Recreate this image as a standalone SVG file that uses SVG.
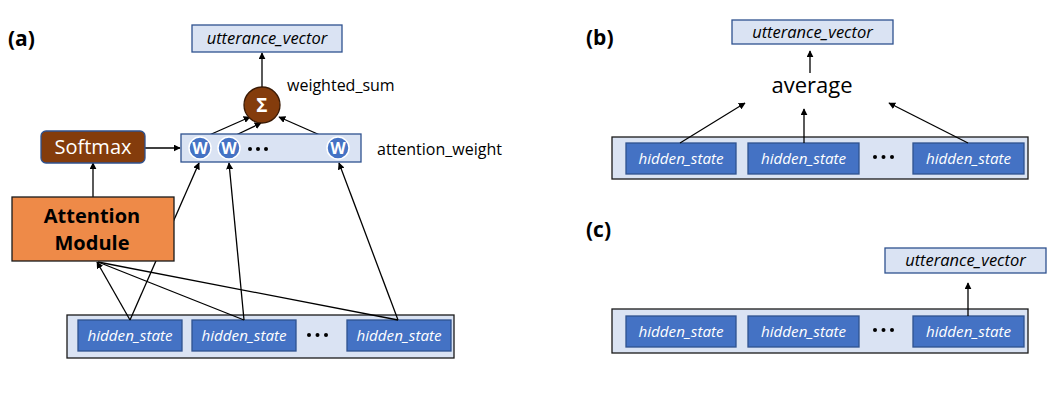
<svg xmlns="http://www.w3.org/2000/svg" width="1058" height="416" viewBox="0 0 1058 416">
<style>
text{font-family:"Open Sans","Noto Sans","DejaVu Sans",sans-serif}
.lbl{font-size:21px;font-weight:bold;fill:#000}
.uv{fill:#DAE3F3;stroke:#2F528F;stroke-width:1.3}
.uvt{font-size:16.5px;font-style:italic;fill:#000;text-anchor:middle}
.cont{fill:#DAE3F3;stroke:#1a1a1a;stroke-width:1.3}
.hs{fill:#4472C4;stroke:#2F528F;stroke-width:1.3}
.hst{font-size:15.2px;font-style:italic;fill:#fff;text-anchor:middle}
.dot{fill:#000}
.w{fill:#4472C4;stroke:#fff;stroke-width:1.5}
.wt{font-size:16px;font-weight:bold;fill:#fff;text-anchor:middle}
.txt{font-size:16px;fill:#000}
.ln{stroke:#000;stroke-width:1.3;fill:none}
.ar{stroke:#000;stroke-width:1.3;fill:none;marker-end:url(#ah)}
</style>
<defs>
<marker id="ah" viewBox="0 0 10 10" refX="9" refY="5" markerWidth="7" markerHeight="7" markerUnits="userSpaceOnUse" orient="auto">
<path d="M0,0 L10,5 L0,10 z" fill="#000"/>
</marker>
</defs>
<rect width="1058" height="416" fill="#fff"/>

<!-- Panel labels -->
<text class="lbl" x="8" y="46">(a)</text>
<text class="lbl" x="586" y="45">(b)</text>
<text class="lbl" x="586" y="237">(c)</text>

<!-- ===== Panel (a) ===== -->
<g id="a-hidden-container">
<rect class="cont" x="67" y="315" width="387" height="43"/>
<circle class="dot" cx="309" cy="335" r="2"/><circle class="dot" cx="317.5" cy="335" r="2"/><circle class="dot" cx="326" cy="335" r="2"/>
</g>
<g id="a-hs1"><rect class="hs" x="78" y="320" width="104" height="31"/><text class="hst" x="130" y="341">hidden_state</text></g>
<g id="a-hs2"><rect class="hs" x="192" y="320" width="104" height="31"/><text class="hst" x="244" y="341">hidden_state</text></g>
<g id="a-hs3"><rect class="hs" x="347" y="320" width="104" height="31"/><text class="hst" x="399" y="341">hidden_state</text></g>

<g id="a-connectors">
<line class="ar" x1="130" y1="320" x2="199" y2="163"/>
<line class="ar" x1="244" y1="320" x2="229" y2="163"/>
<line class="ar" x1="398" y1="320" x2="339" y2="163"/>
<line class="ar" x1="130" y1="320" x2="97" y2="262"/>
<line class="ln" x1="244" y1="320" x2="98" y2="262"/>
<line class="ln" x1="398" y1="320" x2="98" y2="262"/>
<line class="ar" x1="93" y1="197" x2="93" y2="163"/>
<line class="ar" x1="145" y1="148" x2="180" y2="148"/>
<line class="ar" x1="207" y1="136" x2="250" y2="117"/>
<line class="ar" x1="234" y1="136" x2="261" y2="123"/>
<line class="ar" x1="329" y1="139" x2="279" y2="117"/>
<line class="ar" x1="262" y1="87" x2="262" y2="53"/>
</g>

<g id="a-attention-module">
<rect x="12" y="197" width="162" height="64" fill="#EE8A48" stroke="#1a1a1a" stroke-width="1.3"/>
<text x="92" y="223" font-size="20" font-weight="bold" text-anchor="middle" fill="#000">Attention</text>
<text x="92" y="250" font-size="20" font-weight="bold" text-anchor="middle" fill="#000">Module</text>
</g>

<g id="a-softmax">
<rect x="41" y="131" width="104" height="32" rx="5" fill="#843C0C" stroke="#2F528F" stroke-width="1.3"/>
<text x="93" y="154" font-size="20" text-anchor="middle" fill="#fff">Softmax</text>
</g>

<g id="a-attention-weight">
<rect class="uv" x="181" y="134" width="180" height="28"/>
<g id="a-w1"><circle class="w" cx="200" cy="148" r="11"/><text class="wt" x="200" y="153.5">W</text></g>
<g id="a-w2"><circle class="w" cx="229" cy="148" r="11"/><text class="wt" x="229" y="153.5">W</text></g>
<g id="a-w3"><circle class="w" cx="338" cy="148" r="11"/><text class="wt" x="338" y="153.5">W</text></g>
<circle class="dot" cx="250" cy="149" r="2"/><circle class="dot" cx="258" cy="149" r="2"/><circle class="dot" cx="266" cy="149" r="2"/>
<text class="txt" x="377" y="155">attention_weight</text>
</g>

<g id="a-sigma">
<circle cx="262" cy="105" r="18" fill="#843C0C" stroke="#3a1a05" stroke-width="1.3"/>
<text x="262" y="112" font-size="19" font-weight="bold" text-anchor="middle" fill="#fff">Σ</text>
<text class="txt" x="287" y="91">weighted_sum</text>
</g>

<g id="a-utterance">
<rect class="uv" x="192" y="25" width="150" height="27"/>
<text class="uvt" x="267" y="44">utterance_vector</text>
</g>

<!-- ===== Panel (b) ===== -->
<g id="b-hidden-container">
<rect class="cont" x="612" y="137" width="416" height="42"/>
<circle class="dot" cx="875" cy="157" r="2"/><circle class="dot" cx="883.5" cy="157" r="2"/><circle class="dot" cx="892" cy="157" r="2"/>
</g>
<g id="b-hs1"><rect class="hs" x="626" y="143" width="110" height="31"/><text class="hst" x="681" y="164">hidden_state</text></g>
<g id="b-hs2"><rect class="hs" x="748" y="143" width="111" height="31"/><text class="hst" x="803.5" y="164">hidden_state</text></g>
<g id="b-hs3"><rect class="hs" x="913" y="143" width="111" height="31"/><text class="hst" x="968.5" y="164">hidden_state</text></g>

<g id="b-connectors">
<line class="ar" x1="680" y1="143" x2="745" y2="103"/>
<line class="ar" x1="804" y1="143" x2="804" y2="109"/>
<line class="ar" x1="968" y1="143" x2="889" y2="103"/>
<line class="ar" x1="810" y1="73" x2="810" y2="51"/>
</g>

<g id="b-average"><text x="812" y="93" font-size="22" text-anchor="middle" fill="#000">average</text></g>

<g id="b-utterance">
<rect class="uv" x="732" y="20" width="161" height="24"/>
<text class="uvt" x="812.5" y="38">utterance_vector</text>
</g>

<!-- ===== Panel (c) ===== -->
<g id="c-hidden-container">
<rect class="cont" x="612" y="309" width="416" height="44"/>
<circle class="dot" cx="875" cy="330" r="2"/><circle class="dot" cx="883.5" cy="330" r="2"/><circle class="dot" cx="892" cy="330" r="2"/>
</g>
<g id="c-hs1"><rect class="hs" x="626" y="316" width="110" height="31"/><text class="hst" x="681" y="337">hidden_state</text></g>
<g id="c-hs2"><rect class="hs" x="748" y="316" width="111" height="31"/><text class="hst" x="803.5" y="337">hidden_state</text></g>
<g id="c-hs3"><rect class="hs" x="913" y="316" width="111" height="31"/><text class="hst" x="968.5" y="337">hidden_state</text></g>

<g id="c-connectors">
<line class="ar" x1="968" y1="316" x2="968" y2="283"/>
</g>

<g id="c-utterance">
<rect class="uv" x="885" y="248" width="161" height="25"/>
<text class="uvt" x="965.5" y="266">utterance_vector</text>
</g>
</svg>
